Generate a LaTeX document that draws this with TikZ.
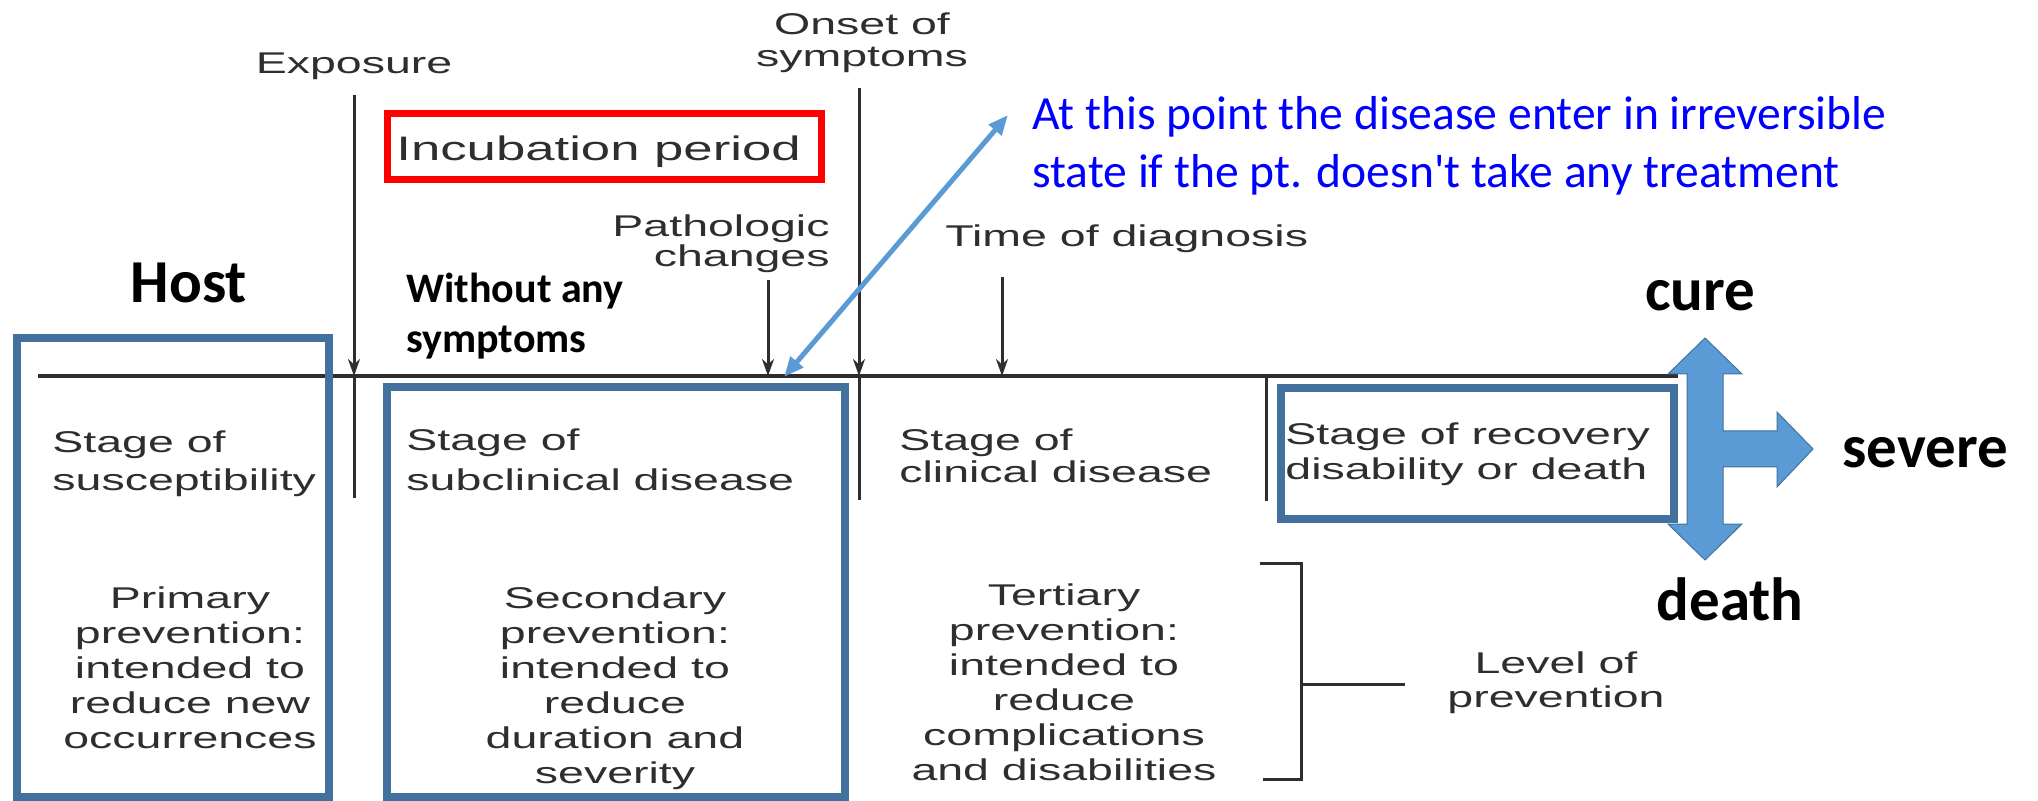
\documentclass[tikz,border=0pt]{standalone}
\usepackage{fontspec}
\setmainfont{Liberation Sans}
\newfontfamily\figfont[FakeStretch=1.55]{Liberation Sans}
\newfontfamily\calfont{Carlito}
\usetikzlibrary{arrows.meta}
\definecolor{boxblue}{HTML}{41719C}
\definecolor{arrowblue}{HTML}{5B9BD5}
\definecolor{figgray}{HTML}{2E2E2E}
\definecolor{noteblue}{HTML}{0000FF}
\begin{document}
\begin{tikzpicture}[x=0.5pt,y=-0.5pt,
  figtext/.style={font=\figfont\fontsize{15}{17.5}\selectfont, text=figgray, inner sep=0pt, align=left},
  figcenter/.style={figtext, align=center},
  figright/.style={figtext, align=right},
  boldlbl/.style={font=\calfont\bfseries\fontsize{30.5}{36}\selectfont, text=black, inner sep=0pt},
  smallbold/.style={font=\calfont\bfseries\fontsize{21}{25}\selectfont, text=black, inner sep=0pt, align=left},
  notetext/.style={font=\calfont\fontsize{23.8}{29}\selectfont, text=noteblue, inner sep=0pt, align=left},
  timeline/.style={draw=figgray, line width=2pt},
  tickline/.style={draw=figgray, line width=1.5pt},
  tickarrow/.style={tickline, -{Stealth[length=8.5pt,width=6pt]}},
  stagebox/.style={draw=boxblue, line width=4pt},
  redbox/.style={draw=red, line width=3.5pt},
  notearrow/.style={draw=arrowblue, line width=2.5pt, {Triangle[length=10pt,width=8pt]}-{Triangle[length=10pt,width=8pt]}},
  bigarrow/.style={fill=arrowblue, draw=boxblue, line width=0.5pt}
]
\useasboundingbox (0,0) rectangle (2038,801);

% main time axis
\coordinate (axisL) at (38,376);
\coordinate (axisR) at (1678,376);
\draw[timeline] (axisL) -- (axisR);

% event markers on the axis
\coordinate (expTop) at (354,95);
\coordinate (expHit) at (354,376);
\coordinate (expBot) at (354,498);
\draw[tickarrow] (expTop) -- (expHit);
\draw[tickline] (expHit) -- (expBot);

\coordinate (onsTop) at (859,88);
\coordinate (onsHit) at (859,376);
\coordinate (onsBot) at (859,500);
\draw[tickarrow] (onsTop) -- (onsHit);
\draw[tickline] (onsHit) -- (onsBot);

\coordinate (patTop) at (768,280);
\coordinate (patHit) at (768,376);
\draw[tickarrow] (patTop) -- (patHit);

\coordinate (diaTop) at (1002,277);
\coordinate (diaHit) at (1002,376);
\draw[tickarrow] (diaTop) -- (diaHit);

\coordinate (recTop) at (1266,376);
\coordinate (recBot) at (1266,501);
\draw[tickline] (recTop) -- (recBot);

% event labels (multi-line nodes sit on the baseline of their last line)
\node[figcenter, anchor=base] (exposure) at (354,74) {Exposure};
\node[figcenter, anchor=base, font=\figfont\fontsize{15}{16}\selectfont] (onset) at (862,67) {Onset of\\symptoms};
\node[figright, anchor=base east, font=\figfont\fontsize{15}{15}\selectfont] (patho) at (830,267) {Pathologic\\changes};
\node[figtext, anchor=base west] (diag) at (945,247) {Time of diagnosis};

% incubation period
\draw[redbox] (387,114) rectangle (821,180);
\node[figtext, anchor=base west, font=\figfont\fontsize{17}{19}\selectfont] (incub) at (396,161) {Incubation period};

% stage frames
\draw[stagebox] (17,338) rectangle (329,797);
\draw[stagebox] (387,387) rectangle (845,797);
\draw[stagebox] (1281,388) rectangle (1674,519);

% stages
\node[figtext, anchor=base west, font=\figfont\fontsize{15}{19}\selectfont] (susc) at (52,490) {Stage of\\susceptibility};
\node[figtext, anchor=base west, font=\figfont\fontsize{15}{20}\selectfont] (subc) at (406,490) {Stage of\\subclinical disease};
\node[figtext, anchor=base west, font=\figfont\fontsize{15}{16}\selectfont] (clin) at (899,482) {Stage of\\clinical disease};
\node[figtext, anchor=base west] (recov) at (1285,480) {Stage of recovery\\disability or death};

% levels of prevention
\node[figcenter, anchor=base] (prim) at (190,748) {Primary\\prevention:\\intended to\\reduce new\\occurrences};
\node[figcenter, anchor=base] (sec) at (615,783) {Secondary\\prevention:\\intended to\\reduce\\duration and\\severity};
\node[figcenter, anchor=base] (tert) at (1064,780) {Tertiary\\prevention:\\intended to\\reduce\\complications\\and disabilities};

\coordinate (brTL) at (1260,563);
\coordinate (brTR) at (1301,563);
\coordinate (brBR) at (1301,779);
\coordinate (brBL) at (1263,779);
\coordinate (brMid) at (1301,684);
\coordinate (brTip) at (1405,684);
\draw[tickline] (brTL) -- (brTR) -- (brBR) -- (brBL);
\draw[tickline] (brMid) -- (brTip);
\node[figcenter, anchor=base, font=\figfont\fontsize{15}{17}\selectfont] (level) at (1556,707) {Level of\\prevention};

% bold labels
\node[boldlbl, anchor=base] (host) at (189,303) {Host};
\node[smallbold, anchor=base west] (nosym) at (406,353) {Without any\\symptoms};
\node[boldlbl, anchor=base] (cure) at (1700,311) {cure};
\node[boldlbl, anchor=base west] (severe) at (1842,468) {severe};
\node[boldlbl, anchor=base] (death) at (1730,620) {death};

% outcome arrow
\draw[bigarrow] (1705,338) -- (1742,374) -- (1723,374) -- (1723,431) -- (1777,431)
  -- (1777,412) -- (1813,449) -- (1777,487) -- (1777,467) -- (1723,467) -- (1723,524)
  -- (1742,524) -- (1705,560) -- (1668,524) -- (1687,524) -- (1687,374) -- (1668,374) -- cycle;

% note on the point of irreversibility
\node[notetext, anchor=base west] (note) at (1032,188) {At this point the disease enter in irreversible\\state if the pt. doesn't take any treatment};
\coordinate (pathPt) at (784,377);
\coordinate (noteTip) at (1008,115);
\draw[notearrow] (pathPt) -- (noteTip);
\end{tikzpicture}
\end{document}
